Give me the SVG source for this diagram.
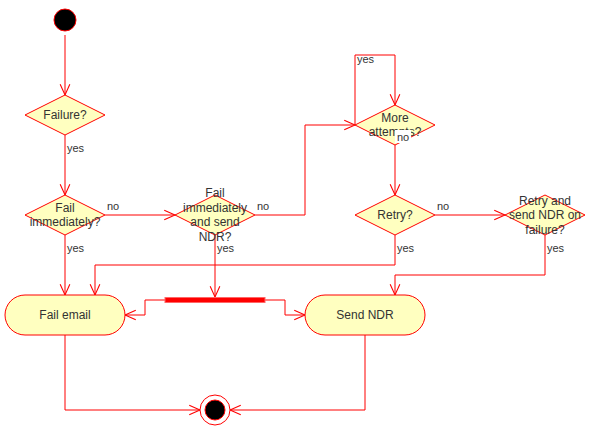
<svg xmlns="http://www.w3.org/2000/svg" width="591" height="431" viewBox="0 0 591 431">
<defs>
<marker id="open" markerUnits="userSpaceOnUse" markerWidth="14" markerHeight="14" viewBox="-11 -6 13 12" refX="0" refY="0" orient="auto" overflow="visible">
<path d="M-10,-4.5 L0,0 L-10,4.5" fill="none" stroke="#FF0000" stroke-width="1"/>
</marker>
<style>
.node{fill:#FFFFC0;stroke:#FF0000;stroke-width:1}
.lbl{font-family:"Liberation Sans",Arial,sans-serif;font-size:12px;fill:#333333;text-anchor:middle}
.elbl{font-family:"Liberation Sans",Arial,sans-serif;font-size:11px;fill:#333333}
.edge{fill:none;stroke:#FF0000;stroke-width:1;marker-end:url(#open)}
.plain{fill:none;stroke:#FF0000;stroke-width:1}
</style>
</defs>
<rect width="591" height="431" fill="#FFFFFF"/>
<g id="connectors">
<path class="edge" d="M65,35 V95"/>
<path class="edge" d="M65,135 V195"/>
<path class="edge" d="M105,215 H175"/>
<path class="edge" d="M65,235 V295"/>
<path class="edge" d="M255,215 H305 V125 H355"/>
<path class="edge" d="M215,235 V297"/>
<path class="edge" d="M355,125 V55 H395 V105"/>
<path class="edge" d="M395,145 V195"/>
<path class="edge" d="M435,215 H505"/>
<path class="edge" d="M395,235 V265 H95 V295"/>
<path class="edge" d="M545,235 V275 H395 V295"/>
<path class="edge" d="M165,300 H145 V315 H125"/>
<path class="edge" d="M265,300 H285 V315 H305"/>
<path class="edge" d="M65,335 V410 H200"/>
<path class="edge" d="M365,335 V410 H230"/>
</g>
<g id="start">
<circle cx="65" cy="20" r="11" fill="#000000" stroke="#FF0000" stroke-width="1"/>
</g>
<g id="failure">
<path class="node" d="M65,95 L105,115 L65,135 L25,115 Z"/>
<text class="lbl" x="65" y="119">Failure?</text>
</g>
<g id="failImmediately">
<path class="node" d="M65,195 L105,215 L65,235 L25,215 Z"/>
<text class="lbl" x="65" y="212">Fail</text>
<text class="lbl" x="65" y="226">immediately?</text>
</g>
<g id="failImmediatelySend">
<path class="node" d="M215,195 L255,215 L215,235 L175,215 Z"/>
<text class="lbl" x="215" y="197">Fail</text>
<text class="lbl" x="215" y="212">immediately</text>
<text class="lbl" x="215" y="226">and send</text>
<text class="lbl" x="215" y="241">NDR?</text>
</g>
<g id="moreAttempts">
<path class="node" d="M395,105 L435,125 L395,145 L355,125 Z"/>
<text class="lbl" x="395" y="122">More</text>
<text class="lbl" x="395" y="136">attempts?</text>
</g>
<g id="retry">
<path class="node" d="M395,195 L435,215 L395,235 L355,215 Z"/>
<text class="lbl" x="395" y="219">Retry?</text>
</g>
<g id="retrySendNDR">
<path class="node" d="M545,195 L585,215 L545,235 L505,215 Z"/>
<text class="lbl" x="545" y="205">Retry and</text>
<text class="lbl" x="545" y="219">send NDR on</text>
<text class="lbl" x="545" y="234">failure?</text>
</g>
<g id="failEmail">
<rect class="node" x="5" y="295" width="120" height="40" rx="20" ry="20"/>
<text class="lbl" x="65" y="319">Fail email</text>
</g>
<g id="sendNDR">
<rect class="node" x="305" y="295" width="120" height="40" rx="20" ry="20"/>
<text class="lbl" x="365" y="319">Send NDR</text>
</g>
<g id="fork">
<rect x="165" y="297.5" width="100" height="5" fill="#FF0000" stroke="#FF6666" stroke-width="1"/>
</g>
<g id="end">
<circle cx="215" cy="410" r="15" fill="#FFFFFF" stroke="#FF0000" stroke-width="1"/>
<circle cx="215" cy="410" r="10" fill="#000000" stroke="#FF0000" stroke-width="1"/>
</g>
<g id="edgeLabels">
<text class="elbl" x="67" y="152">yes</text>
<text class="elbl" x="107" y="210">no</text>
<text class="elbl" x="67" y="252">yes</text>
<text class="elbl" x="257" y="210">no</text>
<text class="elbl" x="217" y="252">yes</text>
<text class="elbl" x="357" y="63">yes</text>
<rect x="395" y="130" width="16" height="13" fill="#FFFFFF"/>
<text class="elbl" x="397" y="141">no</text>
<text class="elbl" x="437" y="210">no</text>
<text class="elbl" x="397" y="252">yes</text>
<text class="elbl" x="547" y="252">yes</text>
</g>
</svg>
